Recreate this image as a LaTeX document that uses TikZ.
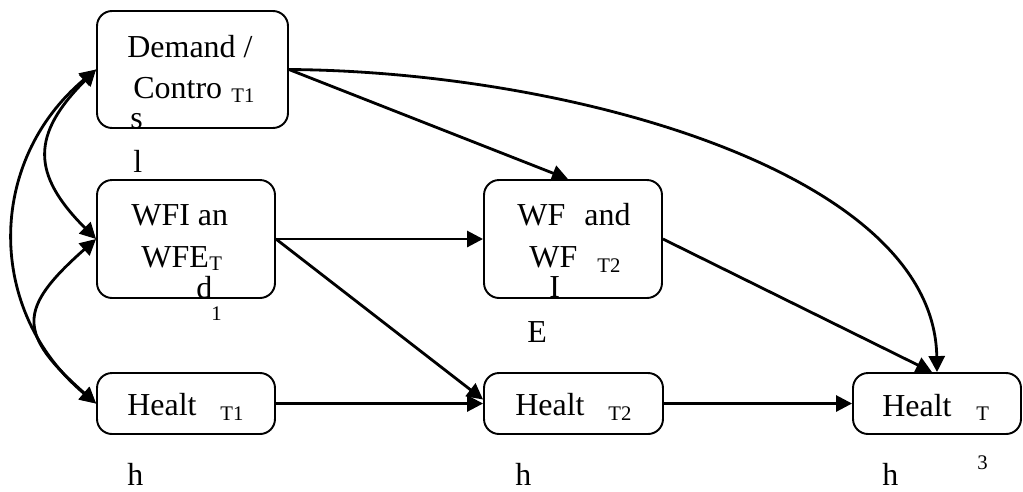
\documentclass[tikz,border=0pt]{standalone}
\usepackage{fontspec}
\setmainfont{Liberation Serif}
\usetikzlibrary{arrows.meta}
\tikzset{box/.style={draw, line width=1.1pt, rounded corners=0.3cm, inner sep=0pt},
  lbl/.style={inner sep=0pt, anchor=base west, font=\fontsize{18.2}{20}\selectfont},
  sub/.style={lbl, font=\fontsize{11.8}{13}\selectfont},
  link/.style={line width=1.6pt, -{Triangle[length=0.32cm,width=0.32cm]}},
  twoway/.style={line width=1.6pt, {Triangle[length=0.32cm,width=0.32cm]}-{Triangle[length=0.32cm,width=0.32cm]}}}

\begin{document}
\begin{tikzpicture}[x=0.02cm, y=-0.02cm]
\useasboundingbox (0,0) rectangle (1023,491);
% boxes
\node[box, minimum width=3.82cm, minimum height=2.34cm] (demT1) at (192.5,69.5) {};
\node[box, minimum width=3.56cm, minimum height=2.36cm] (wfeT1) at (186,239) {};
\node[box, minimum width=3.56cm, minimum height=1.22cm] (hlthT1) at (186,403.5) {};
\node[box, minimum width=3.56cm, minimum height=2.36cm] (wfeT2) at (573,239) {};
\node[box, minimum width=3.58cm, minimum height=1.22cm] (hlthT2) at (573.5,403.5) {};
\node[box, minimum width=3.36cm, minimum height=1.22cm] (hlthT3) at (937,403.5) {};
% texts as they come out
\node[lbl] (demA) at (127,57) {Demand /};
\node[lbl] (demB) at (133,98) {Contro};
\node[sub] (demS) at (231,102) {T1};
\node[lbl] (demC) at (130,128) {s};
\node[lbl] (demD) at (133,172) {l};
\node[lbl] (wfiA) at (131,225) {WFI an};
\node[lbl] (wfiB) at (141,267) {WFE};
\node[sub] (wfiS) at (209,270) {T};
\node[lbl] (wfiC) at (196,298) {d};
\node[sub] (wfiD) at (211,320) {1};
\node[lbl] (hltA) at (127,415) {Healt};
\node[sub] (hltAs) at (220,420) {T1};
\node[lbl] (hltAh) at (127,485) {h};
\node[lbl] (wfA) at (517,225) {WF};
\node[lbl] (wfB) at (584,225) {and};
\node[lbl] (wfC) at (529,267) {WF};
\node[sub] (wfS) at (597,272) {T2};
\node[lbl] (wfI) at (549,297) {I};
\node[lbl] (wfE) at (527,342) {E};
\node[lbl] (hltB) at (515,415) {Healt};
\node[sub] (hltBs) at (608,420) {T2};
\node[lbl] (hltBh) at (515,485) {h};
\node[lbl] (hltC) at (882,416) {Healt};
\node[sub] (hltCs) at (976,420) {T};
\node[sub] (hltC3) at (977,469) {3};
\node[lbl] (hltCh) at (882,485) {h};
% paths
\draw[link] (demT1.east) -- ([xshift=-0.1cm]wfeT2.north);
\draw[link] (demT1.east) .. controls +(280,2) and +(-3,-200) .. (hlthT3.north);
\draw[link] (wfeT1.east) -- (wfeT2.west);
\draw[link] (wfeT1.east) -- ([yshift=0.08cm]hlthT2.west);
\draw[link] (hlthT1.east) -- (hlthT2.west);
\draw[link] (hlthT2.east) -- (hlthT3.west);
\draw[link] (wfeT2.east) -- ([xshift=-0.1cm]hlthT3.north);
\draw[twoway] (demT1.west) .. controls +(-65,65) and +(-65,-65) .. (wfeT1.west);
\draw[twoway] (demT1.west) .. controls +(-110,92) and +(-110,-92) .. (hlthT1.west);
\draw[twoway] (wfeT1.west) .. controls +(-79,70) and +(-79,-70) .. (hlthT1.west);
\end{tikzpicture}
\end{document}
